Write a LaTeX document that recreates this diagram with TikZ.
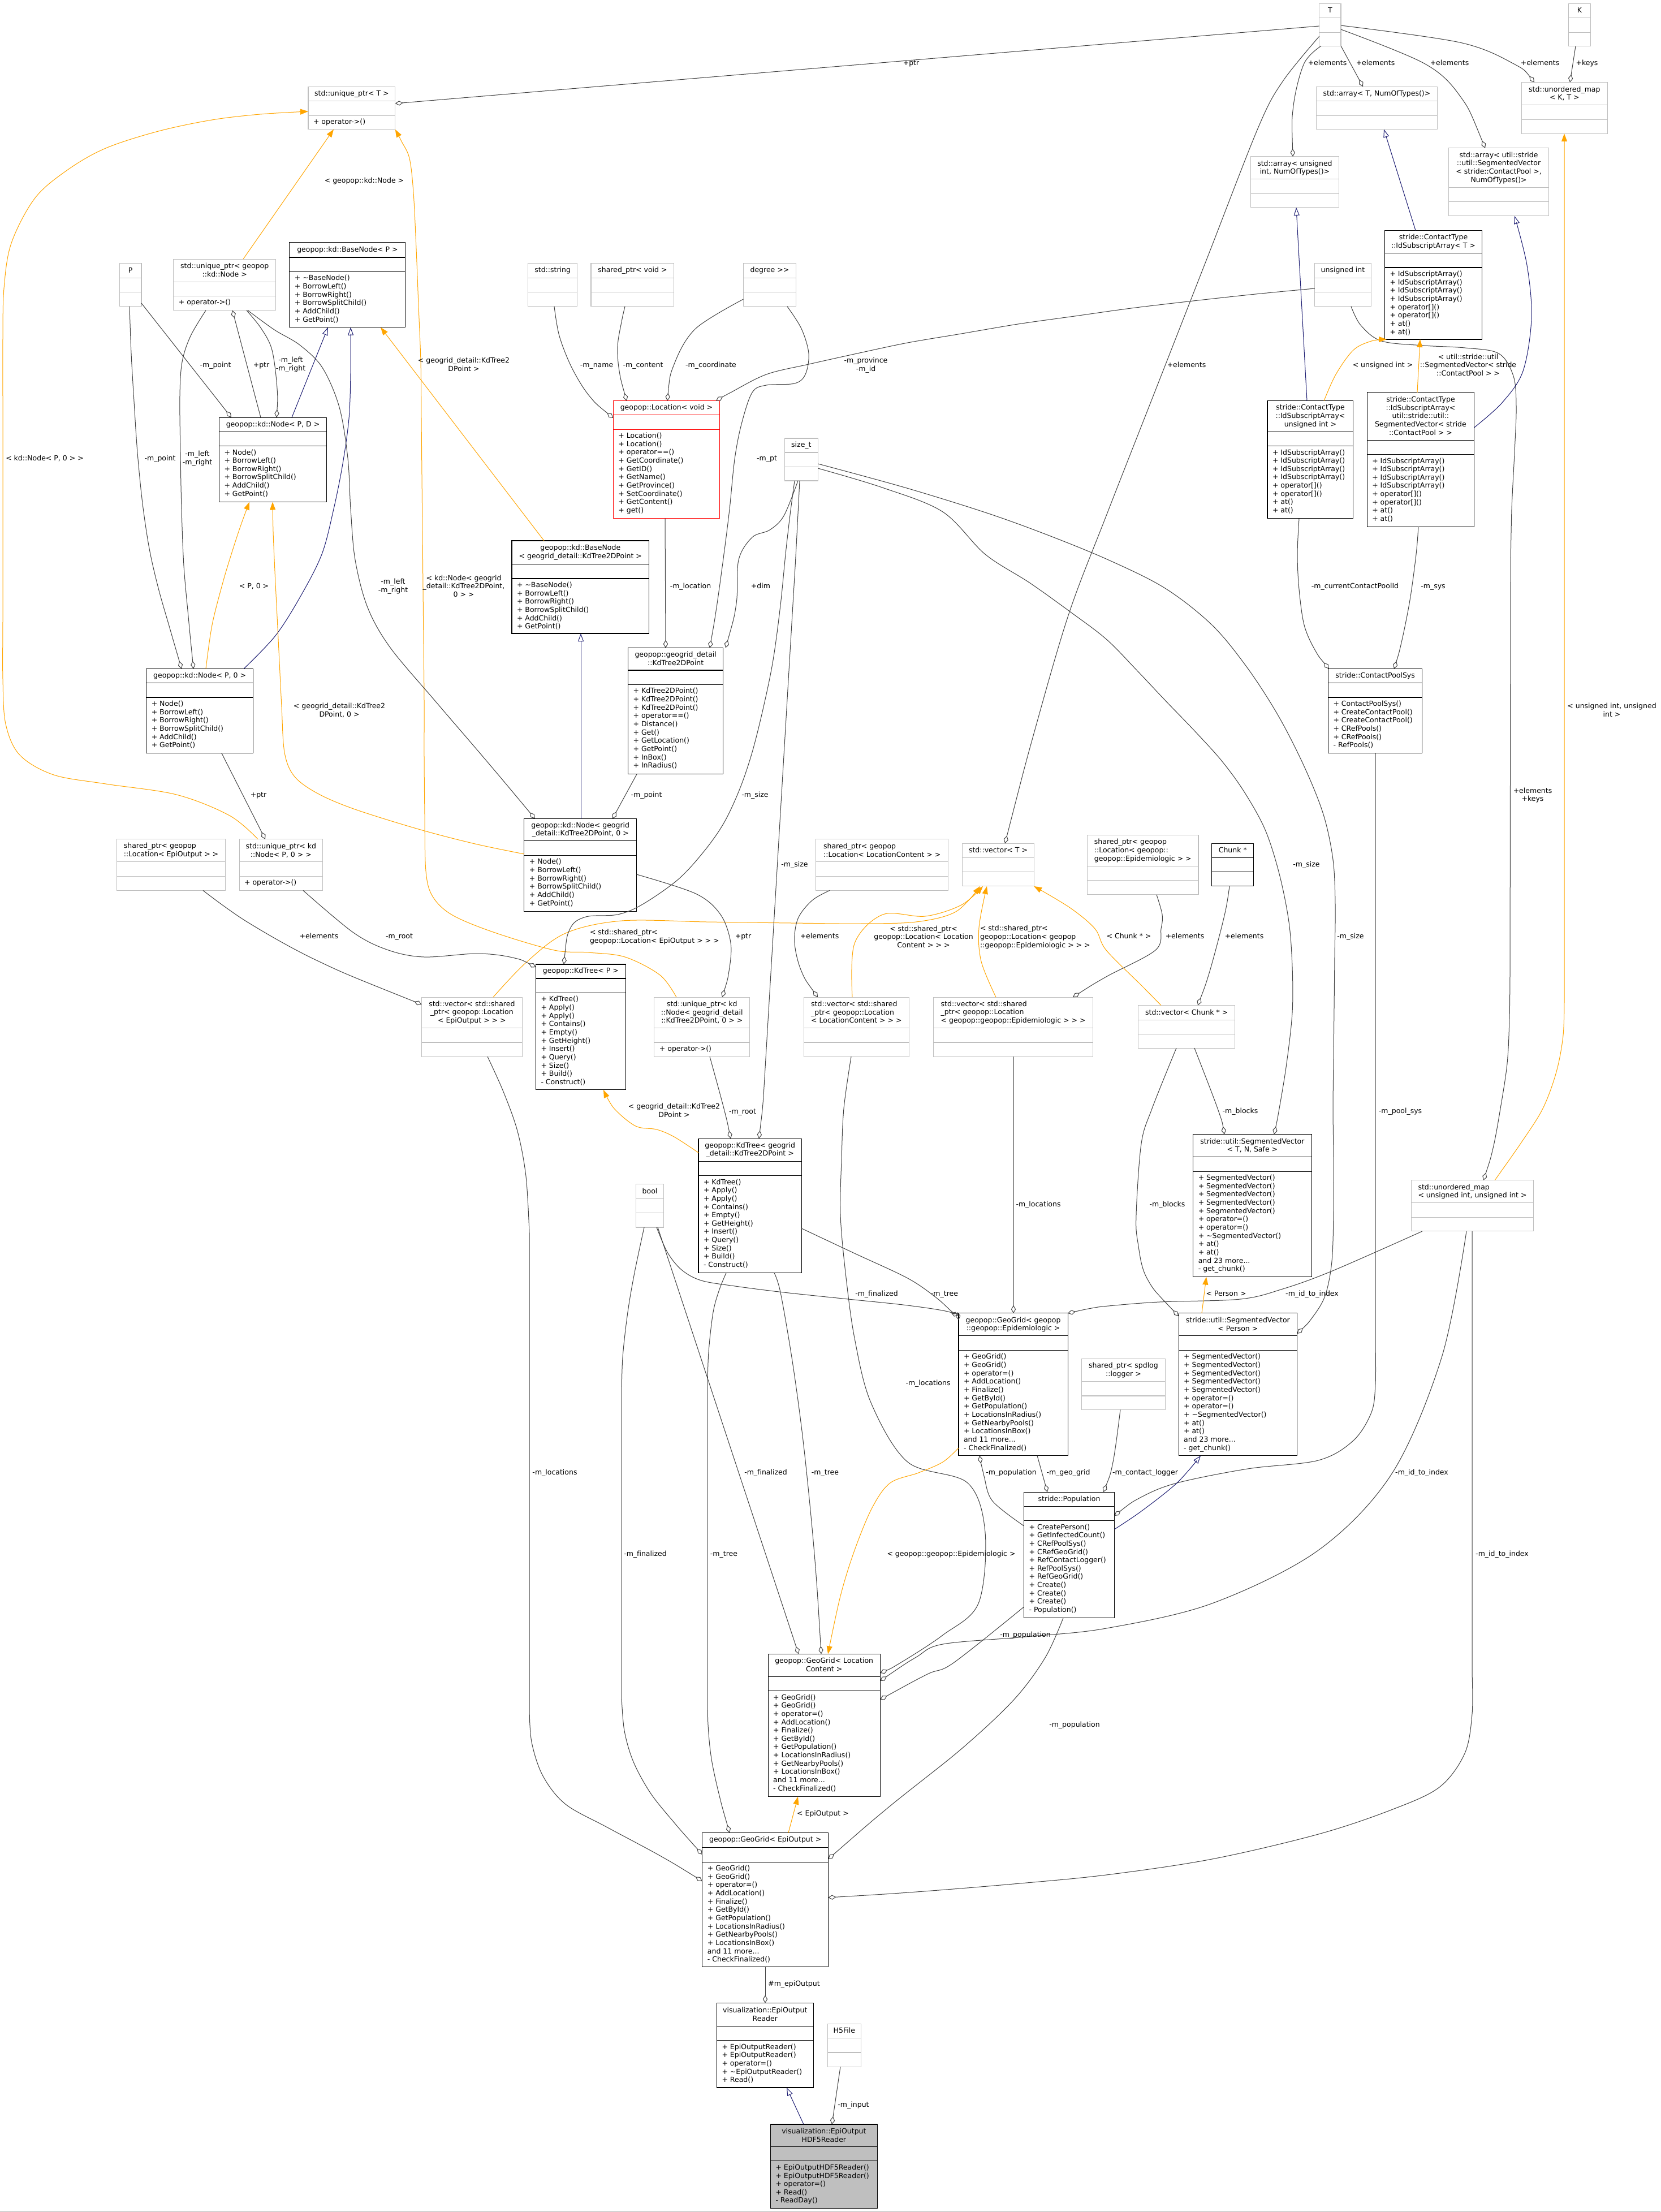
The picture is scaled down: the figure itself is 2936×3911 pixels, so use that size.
\documentclass[tikz,border=0pt]{standalone}
\usepackage{fontspec}
\setmainfont{DejaVu Sans}[Ligatures=NoCommon]
\usetikzlibrary{arrows.meta}
\definecolor{ugray}{HTML}{404040}
\definecolor{bgray}{HTML}{BFBFBF}
\definecolor{mblue}{HTML}{191970}
\definecolor{orng}{HTML}{FFA500}
\newcommand{\umlfs}{\fontsize{6.25}{7.33}\selectfont}
\newcommand{\umlst}{\vphantom{(}}
\def\umltalign{center}
\newcommand{\umlbox}[9]{%
  \pgfmathsetmacro\umlw{(#5-#3)*0.5}%
  \pgfmathsetmacro\umlh{(#6-#4)*0.5}%
  \node[#2, anchor=north west, minimum width=\umlw pt, minimum height=\umlh pt, inner sep=0pt, outer sep=0pt] (#1) at (#3,#4) {};
  \draw[#2] (#3,#7) rectangle (#5,#7+25.5);
  \node[txt, align=\umltalign] (#1t) at ({(#3+#5)/2},{(#4+#7)/2}) {\umlst #8\umlst};
  \if\relax\detokenize{#9}\relax\else
  \node[txt, align=left, anchor=north west] (#1m) at (#3+9,#7+31.4) {\umlst #9};
  \fi
  \gdef\umltalign{center}%
}
\newcommand{\umlboxL}{\gdef\umltalign{left}\umlbox}
\newcommand{\elab}[3]{\node[txt, align=center] (#1) at (#2) {\umlst #3\umlst};}
\newcommand{\elabL}[3]{\node[txt, align=left, anchor=west] (#1) at (#2) {\umlst #3\umlst};}
\def\mBase{+ \textasciitilde BaseNode()\\+ BorrowLeft()\\+ BorrowRight()\\+ BorrowSplitChild()\\+ AddChild()\\+ GetPoint()}
\def\mNode{+ Node()\\+ BorrowLeft()\\+ BorrowRight()\\+ BorrowSplitChild()\\+ AddChild()\\+ GetPoint()}
\def\mLoc{+ Location()\\+ Location()\\+ operator==()\\+ GetCoordinate()\\+ GetID()\\+ GetName()\\+ GetProvince()\\+ SetCoordinate()\\+ GetContent()\\+ get()}
\def\mISA{+ IdSubscriptArray()\\+ IdSubscriptArray()\\+ IdSubscriptArray()\\+ IdSubscriptArray()\\+ operator[]()\\+ operator[]()\\+ at()\\+ at()}
\def\mKP{+ KdTree2DPoint()\\+ KdTree2DPoint()\\+ KdTree2DPoint()\\+ operator==()\\+ Distance()\\+ Get()\\+ GetLocation()\\+ GetPoint()\\+ InBox()\\+ InRadius()}
\def\mKT{+ KdTree()\\+ Apply()\\+ Apply()\\+ Contains()\\+ Empty()\\+ GetHeight()\\+ Insert()\\+ Query()\\+ Size()\\+ Build()\\- Construct()}
\def\mCPS{+ ContactPoolSys()\\+ CreateContactPool()\\+ CreateContactPool()\\+ CRefPools()\\+ CRefPools()\\- RefPools()}
\def\mGG{+ GeoGrid()\\+ GeoGrid()\\+ operator=()\\+ AddLocation()\\+ Finalize()\\+ GetById()\\+ GetPopulation()\\+ LocationsInRadius()\\+ GetNearbyPools()\\+ LocationsInBox()\\and 11 more...\\- CheckFinalized()}
\def\mPop{+ CreatePerson()\\+ GetInfectedCount()\\+ CRefPoolSys()\\+ CRefGeoGrid()\\+ RefContactLogger()\\+ RefPoolSys()\\+ RefGeoGrid()\\+ Create()\\+ Create()\\+ Create()\\- Population()}
\def\mSV{+ SegmentedVector()\\+ SegmentedVector()\\+ SegmentedVector()\\+ SegmentedVector()\\+ SegmentedVector()\\+ operator=()\\+ operator=()\\+ \textasciitilde SegmentedVector()\\+ at()\\+ at()\\and 23 more...\\- get\_chunk()}
\def\mEOR{+ EpiOutputReader()\\+ EpiOutputReader()\\+ operator=()\\+ \textasciitilde EpiOutputReader()\\+ Read()}
\def\mHDF{+ EpiOutputHDF5Reader()\\+ EpiOutputHDF5Reader()\\+ operator=()\\+ Read()\\- ReadDay()}
\begin{document}
\begin{tikzpicture}[x=0.5pt,y=-0.5pt,
  txt/.style={font=\umlfs, inner sep=0pt, outer sep=0pt, text=black},
  gbox/.style={draw=bgray, line width=0.55pt, fill=white},
  kbox/.style={draw=black, line width=0.55pt, fill=white},
  rbox/.style={draw=red, line width=0.55pt, fill=white},
  hbox/.style={draw=black, line width=0.55pt, fill=bgray},
  agg/.style={draw=ugray, line width=0.5pt, {Diamond[open, length=7pt, width=4.2pt]}-},
  inh/.style={draw=mblue, line width=0.5pt, -{Triangle[open, length=7pt, width=5pt]}},
  tmpl/.style={draw=orng, line width=0.5pt, -{Triangle[length=7pt, width=5pt]}},
  smooth, tension=0.55]
\useasboundingbox (0,0) rectangle (2936,3911);
\fill[white] (0,0) rectangle (2936,3911);
\draw[draw=black!45, line width=0.6pt] (0,3909.5) -- (2936,3909.5);

% ---------------- boxes ----------------
\umlbox{uT}{gbox}{545}{153.1}{698.75}{228.75}{178.75}{std::unique\_ptr< T >}{+ operator->()}
\umlbox{P}{gbox}{211.25}{465.6}{250}{541.9}{491.25}{P}{}
\umlbox{uKN}{gbox}{306.9}{458.1}{487.5}{548.75}{498.1}{std::unique\_ptr< geopop\\::kd::Node >}{+ operator->()}
\umlbox{BN}{kbox}{511.9}{428.75}{716.9}{578.75}{455}{geopop::kd::BaseNode< P >}{\mBase}
\umlbox{NPD}{kbox}{387.5}{738.1}{577.5}{887.5}{763.1}{geopop::kd::Node< P, D >}{\mNode}
\umlbox{str}{gbox}{933.75}{465.6}{1020.6}{541.9}{491.25}{std::string}{}
\umlbox{spv}{gbox}{1045}{465.6}{1191.9}{541.9}{491.25}{shared\_ptr< void >}{}
\umlbox{deg}{gbox}{1314.4}{465.6}{1407.5}{541.9}{491.25}{degree >{}>}{}
\umlbox{Loc}{rbox}{1084.4}{708.75}{1272.5}{916.9}{733.75}{geopop::Location< void >}{\mLoc}
\umlbox{szt}{gbox}{1387.5}{775}{1446.25}{850}{800}{size\_t}{}
\umlbox{T}{gbox}{2332.9}{6.25}{2371}{81.25}{31.9}{T}{}
\umlbox{K}{gbox}{2773.5}{6.25}{2812.25}{81.25}{31.9}{K}{}
\umlbox{aT}{gbox}{2327.25}{153.1}{2541.6}{228.75}{178.75}{std::array< T, NumOfTypes()>}{}
\umlbox{umKT}{gbox}{2690.4}{145.6}{2842.25}{236.25}{185.6}{std::unordered\_map\\< K, T >}{}
\umlbox{aU}{gbox}{2211.6}{276.9}{2367.25}{366.9}{316.9}{std::array< unsigned\\int, NumOfTypes()>}{}
\umlbox{aSV}{gbox}{2561.6}{261.9}{2738.5}{381.9}{331.25}{std::array< util::stride\\::util::SegmentedVector\\< stride::ContactPool >,\\NumOfTypes()>}{}
\umlbox{ISAT}{kbox}{2448.5}{407.5}{2620.4}{600}{447.5}{stride::ContactType\\::IdSubscriptArray< T >}{\mISA}
\umlbox{uint}{gbox}{2324.75}{465.6}{2424.1}{541.9}{491.25}{unsigned int}{}
\umlbox{ISAU}{kbox}{2241}{708.75}{2392.9}{916.9}{763.1}{stride::ContactType\\::IdSubscriptArray<\\unsigned int >}{\mISA}
\umlbox{ISASV}{kbox}{2417.25}{693.75}{2606.6}{931.25}{778.1}{stride::ContactType\\::IdSubscriptArray<\\util::stride::util::\\SegmentedVector< stride\\::ContactPool > >}{\mISA}
\umlbox{NPz}{kbox}{258.75}{1182.5}{447.5}{1331.9}{1207.5}{geopop::kd::Node< P, 0 >}{\mNode}
\umlboxL{spEO}{gbox}{206.9}{1483.75}{398.1}{1574.4}{1523.75}{shared\_ptr< geopop\\::Location< EpiOutput > >}{}
\umlbox{uKNPz}{gbox}{423.1}{1483.75}{570.6}{1574.4}{1523.75}{std::unique\_ptr< kd\\::Node< P, 0 > >}{+ operator->()}
\umlbox{vEO}{gbox}{745.6}{1763.1}{923.1}{1868.1}{1817.5}{std::vector< std::shared\\\_ptr< geopop::Location\\< EpiOutput > > >}{}
\umlbox{BNKD}{kbox}{905}{956}{1147.5}{1120}{997.5}{geopop::kd::BaseNode\\< geogrid\_detail::KdTree2DPoint >}{\mBase}
\umlbox{KP}{kbox}{1110.6}{1145.6}{1278.75}{1368.75}{1185}{geopop::geogrid\_detail\\::KdTree2DPoint}{\mKP}
\umlbox{NKD}{kbox}{926.9}{1447.5}{1125.6}{1611.25}{1486.9}{geopop::kd::Node< geogrid\\\_detail::KdTree2DPoint, 0 >}{\mNode}
\umlbox{KTP}{kbox}{947.5}{1705}{1106.25}{1926.9}{1730}{geopop::KdTree< P >}{\mKT}
\umlbox{uKNKD}{gbox}{1156.9}{1763.1}{1325.6}{1868.1}{1817.5}{std::unique\_ptr< kd\\::Node< geogrid\_detail\\::KdTree2DPoint, 0 > >}{+ operator->()}
\umlboxL{spLC}{gbox}{1442.5}{1483.75}{1676.9}{1574.4}{1523.75}{shared\_ptr< geopop\\::Location< LocationContent > >}{}
\umlbox{vT}{gbox}{1701.9}{1491.25}{1828.1}{1566.9}{1516.25}{std::vector< T >}{}
\umlboxL{spEp}{gbox}{1922.5}{1476.9}{2119}{1581.9}{1531.25}{shared\_ptr< geopop\\::Location< geopop::\\geopop::Epidemiologic > >}{}
\umlboxL{vLC}{gbox}{1421.25}{1763.1}{1607.5}{1868.1}{1817.5}{std::vector< std::shared\\\_ptr< geopop::Location\\< LocationContent > > >}{}
\umlboxL{vEp}{gbox}{1650.6}{1763.1}{1932.5}{1868.1}{1817.5}{std::vector< std::shared\\\_ptr< geopop::Location\\< geopop::geopop::Epidemiologic > > >}{}
\umlbox{CPS}{kbox}{2348.5}{1182.5}{2514.75}{1331.9}{1207.5}{stride::ContactPoolSys}{\mCPS}
\umlbox{Chk}{kbox}{2142.9}{1491.25}{2216.6}{1566.9}{1516.25}{Chunk *}{}
\umlbox{vChk}{gbox}{2012.9}{1777.5}{2183.5}{1853.1}{1803.1}{std::vector< Chunk * >}{}
\umlbox{KTKD}{kbox}{1235}{2013.1}{1417.5}{2250.6}{2053.1}{geopop::KdTree< geogrid\\\_detail::KdTree2DPoint >}{\mKT}
\umlbox{bool}{gbox}{1124.4}{2093.75}{1173.75}{2170}{2119.4}{bool}{}
\umlbox{GGEp}{kbox}{1695}{2321.9}{1888.1}{2573.75}{2361.9}{geopop::GeoGrid< geopop\\::geopop::Epidemiologic >}{\mGG}
\umlbox{Pop}{kbox}{1810.6}{2638.1}{1970.4}{2860.6}{2663.1}{stride::Population}{\mPop}
\umlbox{spLog}{gbox}{1912.5}{2402.5}{2060.4}{2492.5}{2442.5}{shared\_ptr< spdlog\\::logger >}{}
\umlbox{GGLC}{kbox}{1358.1}{2924.4}{1556.25}{3176.6}{2964.1}{geopop::GeoGrid< Location\\Content >}{\mGG}
\umlbox{SVT}{kbox}{2109.75}{2005.6}{2319.1}{2257.5}{2045.6}{stride::util::SegmentedVector\\< T, N, Safe >}{\mSV}
\umlbox{SVP}{kbox}{2084.1}{2321.9}{2293.5}{2573.75}{2361.9}{stride::util::SegmentedVector\\< Person >}{\mSV}
\umlboxL{umU}{gbox}{2495.4}{2086.9}{2711.6}{2176.9}{2126.9}{std::unordered\_map\\< unsigned int, unsigned int >}{}
\umlbox{GGEO}{kbox}{1241.9}{3240.4}{1464.4}{3477.9}{3266.6}{geopop::GeoGrid< EpiOutput >}{\mGG}
\umlbox{EOR}{kbox}{1267.5}{3541.6}{1438.1}{3691}{3582.25}{visualization::EpiOutput\\Reader}{\mEOR}
\umlbox{H5}{gbox}{1463.1}{3578.5}{1522.5}{3654.1}{3603.5}{H5File}{}
\umlbox{HDF}{hbox}{1362.5}{3756}{1551.25}{3904}{3795.4}{visualization::EpiOutput\\HDF5Reader}{\mHDF}

% ---------------- connectors ----------------
\draw[agg] (uT.east |- 0,183) -- (T.west |- 0,46);
\draw[agg] plot coordinates {(vT.north -| 1777,0) (1830,1290) (1890,1085) (1956,912) (2045,685) (2135,455) (2225,225) (2268,144) (T.west |- 0,64)};
\draw[agg] plot coordinates {(aU.north -| 2286,0) (2287,187) (2306,112) (T.south -| 2336,0)};
\draw[agg] (aT.north -| 2410,0) -- (T.south east);
\draw[agg] plot coordinates {(aSV.north -| 2626,0) (2581,169) (2518,112) (T.east |- 0,52)};
\draw[agg] plot coordinates {(umKT.north -| 2713,0) (2675,112) (2581,75) (T.east |- 0,45)};
\draw[agg] (umKT.north -| 2776,0) -- (K.south -| 2786,0);

\draw[tmpl] (uKN.north -| 430,0) -- (uT.south -| 590,0);
\draw[tmpl] plot coordinates {(uKNPz.north -| 456,0) (406,1442) (312,1405) (187,1386) (95,1370) (35,1335) (10,1280) (5,1200) (5,1100) (5,1000) (5,900) (5,800) (5,700) (5,600) (7,510) (20,430) (62,350) (120,300) (187,262) (280,232) (375,212) (460,202) (uT.west |- 0,197)};
\draw[tmpl] plot coordinates {(uKNKD.north -| 1196,0) (1167,1724) (1105,1692) (1040,1684) (980,1680) (875,1649) (800,1618) (765,1585) (753,1540) (751,1440) (750,1340) (750,1240) (749,1140) (748,1040) (747,940) (746,840) (745,740) (744,640) (740,540) (736,440) (731,340) (724,280) (710,250) (uT.south east)};
\draw[tmpl] plot coordinates {(vEO.north -| 872,0) (930,1702) (1000,1650) (1100,1628) (1250,1630) (1400,1632) (1520,1633) (1620,1630) (1690,1612) (vT.south -| 1733,0)};
\draw[tmpl] plot coordinates {(vLC.north -| 1507,0) (1511,1668) (1561,1617) (1636,1620) (1700,1600) (vT.south -| 1738,0)};
\draw[tmpl] plot coordinates {(vEp.north -| 1761,0) (1735,1700) (1731,1640) (vT.south -| 1745,0)};
\draw[tmpl] plot coordinates {(vChk.north -| 2053,0) (2018,1742) (1956,1680) (1936,1642) (1892,1605) (vT.south east)};

\draw[inh] (NPD.north -| 516,0) -- (BN.south -| 580,0);
\draw[inh] plot coordinates {(NPz.north -| 431,0) (487,1124) (531,1055) (569,980) (590,900) (606,820) (617,740) (620,660) (BN.south -| 620,0)};
\draw[tmpl] (BNKD.north -| 962,0) -- (BN.south -| 673,0);
\draw[tmpl] plot coordinates {(NPz.north -| 364,0) (375,1105) (394,1030) (409,980) (425,931) (NPD.south -| 441,0)};
\draw[tmpl] plot coordinates {(NKD.west |- 0,1510) (840,1492) (740,1466) (625,1430) (560,1402) (520,1372) (503,1330) (498,1250) (494,1170) (490,1090) (486,1010) (483,940) (NPD.south -| 482,0)};
\draw[agg] (NPD.north -| 409,0) -- (P.east |- 0,536);
\draw[agg] (uKN.south -| 411,0) -- (NPD.north -| 461,0);
\draw[agg] plot coordinates {(NPD.north -| 489,0) (490,687) (481,619) (462,581) (uKN.south -| 436,0)};
\draw[agg] plot coordinates {(NPz.north -| 321,0) (300,1110) (280,1040) (264,970) (252,890) (243,800) (237,710) (232,625) (P.south -| 229,0)};
\draw[agg] plot coordinates {(NPz.north -| 342,0) (333,1090) (325,1000) (321,900) (319,800) (318,700) (322,640) (337,594) (uKN.south -| 364,0)};
\draw[agg] plot coordinates {(NKD.north -| 946,0) (860,1345) (770,1240) (690,1145) (650,1074) (628,990) (620,900) (615,810) (600,720) (570,650) (530,610) (485,583) (uKN.south -| 438,0)};
\draw[agg] (uKNPz.north -| 469,0) -- (NPz.south -| 392,0);

\draw[agg] plot coordinates {(Loc.west |- 0,739) (1042,700) (1011,650) (989,594) (str.south -| 980,0)};
\draw[agg] plot coordinates {(Loc.north -| 1108,0) (1095,656) (1092,612) (1099,569) (spv.south -| 1105,0)};
\draw[agg] plot coordinates {(Loc.north -| 1180,0) (1192,644) (1230,581) (deg.west |- 0,529)};
\draw[agg] plot coordinates {(Loc.north -| 1266,0) (1292,694) (1355,662) (1430,644) (1520,624) (1605,606) (1700,590) (1800,573) (1900,559) (2000,545) (2110,532) (2220,520) (uint.west |- 0,510)};
\draw[agg] (KP.north -| 1177,0) -- (Loc.south -| 1176,0);
\draw[agg] plot coordinates {(KP.north -| 1255,0) (1267,1074) (1280,980) (1290,900) (1299,812) (1311,750) (1330,694) (1355,681) (1405,678) (1424,662) (1430,625) (1417,581) (deg.south -| 1392,0)};
\draw[agg] plot coordinates {(KP.north -| 1283,0) (1302,1067) (1306,990) (1330,950) (1361,937) (1386,912) (szt.south -| 1411,0)};
\draw[agg] (NKD.north -| 1083,0) -- (KP.south -| 1126,0);
\draw[inh] (NKD.north -| 1027,0) -- (BNKD.south -| 1027,0);
\draw[agg] plot coordinates {(KTP.north -| 997,0) (1008,1642) (1036,1621) (1092,1617) (1136,1599) (1199,1555) (1245,1505) (1280,1455) (1308,1395) (1330,1330) (1350,1250) (1367,1167) (1380,1070) (1389,980) (1397,910) (szt.south -| 1405,0)};
\draw[agg, rounded corners=10pt] (KTKD.north -| 1342,0) -- (1349,1955) -- (1407,985) -- (szt.south -| 1414,0);
\draw[agg] plot coordinates {(SVP.east |- 0,2358) (2320,2330) (2343,2291) (2355,2230) (2358,2140) (2358,2050) (2357,1960) (2358,1870) (2359,1780) (2360,1690) (2361,1600) (2357,1520) (2340,1440) (2306,1355) (2260,1265) (2205,1180) (2143,1105) (2060,1040) (1960,990) (1850,945) (1742,906) (1600,862) (szt.east |- 0,820)};
\draw[agg] plot coordinates {(SVT.north -| 2253,0) (2262,1960) (2275,1880) (2285,1790) (2285,1710) (2279,1630) (2262,1545) (2237,1467) (2200,1400) (2160,1345) (2112,1292) (2060,1238) (2010,1185) (1956,1130) (1890,1080) (1820,1030) (1742,980) (1667,905) (1560,862) (szt.east |- 0,828)};
\draw[agg] plot coordinates {(umU.north -| 2623,0) (2640,2030) (2653,1960) (2665,1880) (2669,1800) (2670,1720)} -- plot coordinates {(2671,1000) (2673,900) (2678,800) (2681,720) (2676,665) (2650,625) (2590,615) (2518,611) (2443,603) (2406,575) (uint.south -| 2389,0)};
\draw[agg] plot coordinates {(CPS.north -| 2350,0) (2325,1149) (2306,1105) (2297,1042) (2294,980) (ISAU.south -| 2297,0)};
\draw[agg] plot coordinates {(CPS.north -| 2465,0) (2478,1136) (2493,1061) (2504,980) (ISASV.south -| 2508,0)};
\draw[tmpl] plot coordinates {(ISAU.north -| 2341,0) (2362,662) (2393,619) (2425,603) (ISAT.south -| 2452,0)};
\draw[tmpl] (ISASV.north -| 2506,0) -- (ISAT.south -| 2511,0);
\draw[inh] (ISAU.north -| 2311,0) -- (aU.south -| 2292,0);
\draw[inh] (ISAT.north -| 2503,0) -- (aT.south -| 2447,0);
\draw[inh] plot coordinates {(ISASV.east |- 0,756) (2656,712) (2693,656) (2708,562) (2700,469) (aSV.south -| 2678,0)};
\draw[tmpl] plot coordinates {(umU.north -| 2643,0) (2690,2020) (2728,1960) (2752,1895) (2764,1830) (2766,1760)} -- (umKT.south -| 2766,0);
\draw[agg] plot coordinates {(Pop.east |- 0,2680) (2018,2647) (2081,2622) (2206,2597) (2331,2582) (2393,2547) (2425,2497) (2432,2447) (2432,2380)} -- (CPS.south -| 2432,0);
\draw[agg] plot coordinates {(vChk.north -| 2118,0) (2137,1724) (2156,1655) (2168,1605) (Chk.south -| 2174,0)};
\draw[agg] plot coordinates {(vEp.north -| 1897,0) (1956,1727) (2043,1680) (2053,1642) (2055,1617) (spEp.south -| 2045,0)};
\draw[agg] plot coordinates {(vLC.north -| 1446,0) (1417,1717) (1405,1667) (1411,1624) (1436,1592) (spLC.south -| 1467,0)};
\draw[agg] plot coordinates {(vEO.west |- 0,1776) (562,1699) (437,1630) (spEO.south -| 359,0)};
\draw[agg] plot coordinates {(KTP.west |- 0,1710) (906,1693) (844,1686) (750,1692) (687,1680) (625,1649) (uKNPz.south -| 536,0)};
\draw[agg] plot coordinates {(uKNKD.north -| 1277,0) (1289,1717) (1292,1667) (1274,1617) (1230,1580) (NKD.east |- 0,1546)};
\draw[tmpl] plot coordinates {(KTKD.west |- 0,2038) (1192,2010) (1161,1997) (1124,1991) (1086,1960) (KTP.south -| 1067,0)};
\draw[agg] plot coordinates {(KTKD.north -| 1292,0) (1280,1960) (uKNKD.south -| 1255,0)};
\draw[agg] plot coordinates {(GGEp.west |- 0,2334) (1680,2320) (1605,2308) (1500,2297) (1386,2285) (1300,2274) (1240,2264) (1205,2245) (1180,2214) (bool.south -| 1161,0)};
\draw[agg] plot coordinates {(GGEp.west |- 0,2326) (1683,2319) (1655,2294) (1605,2260) (1511,2216) (KTKD.east |- 0,2172)};
\draw[agg] (GGEp.north -| 1792,0) -- (vEp.south -| 1792,0);
\draw[agg] plot coordinates {(GGEp.north east) (1930,2313) (1960,2309) (2050,2302) (2193,2297) (2268,2279) (2356,2247) (umU.south -| 2515,0)};
\draw[agg] plot coordinates {(GGLC.east |- 0,2958) (1592,2940) (1667,2891) (1730,2835) (1742,2710) (1711,2622) (1605,2585) (1540,2480) (1511,2366) (1495,2250) (1486,2147) (1488,2050) (1492,1960) (vLC.south -| 1505,0)};
\draw[agg] (GGLC.north -| 1412,0) -- (bool.south -| 1163,0);
\draw[agg] plot coordinates {(GGLC.north -| 1452,0) (1442,2772) (1430,2640) (1417,2522) (1400,2400) (1380,2285) (KTKD.south -| 1369,0)};
\draw[tmpl] plot coordinates {(GGEp.west |- 0,2560) (1667,2585) (1624,2604) (1574,2622) (1542,2666) (1511,2741) (1486,2822) (GGLC.north -| 1464,0)};
\draw[agg] plot coordinates {(GGEp.south -| 1732,0) (1740,2610) (1755,2654) (Pop.west |- 0,2698)};
\draw[agg] (Pop.north -| 1852,0) -- (GGEp.south -| 1834,0);
\draw[agg] plot coordinates {(Pop.north -| 1951,0) (1968,2585) (spLog.south -| 1981,0)};
\draw[inh] plot coordinates {(Pop.east |- 0,2704) (2018,2672) (2081,2622) (SVP.south -| 2123,0)};
\draw[tmpl] (SVP.north -| 2125,0) -- (SVT.south -| 2133,0);
\draw[agg] plot coordinates {(SVT.north -| 2165,0) (2153,1960) (vChk.south -| 2112,0)};
\draw[agg] plot coordinates {(SVP.west |- 0,2327) (2028,2260) (2012,2197) (2009,2147) (2018,2022) (2037,1960) (vChk.south -| 2080,0)};
\draw[agg] plot coordinates {(GGLC.east |- 0,2972) (1620,2930) (1667,2907) (1813,2894) (1956,2879) (2143,2835) (2331,2741) (2462,2604) (2550,2397) (umU.south -| 2593,0)};
\draw[agg] plot coordinates {(GGLC.east |- 0,3005) (1640,2960) (1686,2940) (Pop.west |- 0,2841)};
\draw[agg] plot coordinates {(GGEO.west |- 0,3326) (1167,3281) (1074,3231) (1000,3190) (960,3140) (940,3080) (936,3020)} -- plot coordinates {(936,2180) (930,2080) (915,2000) (890,1930) (vEO.south -| 862,0)};
\draw[agg] plot coordinates {(GGEO.west |- 0,3279) (1190,3220) (1150,3170) (1120,3115) (1104,3060) (1099,3000)} -- plot coordinates {(1099,2470) (1101,2400) (1110,2320) (1122,2250) (bool.south -| 1139,0)};
\draw[agg] plot coordinates {(GGEO.north -| 1290,0) (1272,3175) (1258,3110) (1252,3050) (1251,2990)} -- plot coordinates {(1251,2450) (1253,2390) (1261,2320) (1272,2280) (KTKD.south -| 1284,0)};
\draw[agg] plot coordinates {(GGEO.east |- 0,3287) (1574,3193) (1699,3093) (1792,3006) (1848,2931) (Pop.south -| 1880,0)};
\draw[agg] plot coordinates {(GGEO.east |- 0,3355) (1620,3345) (1792,3331) (1956,3315) (2143,3287) (2331,3243) (2460,3200) (2545,3160) (2590,3100) (2603,3030) (2603,2960)} -- (umU.south -| 2603,0);
\draw[tmpl] (GGEO.north -| 1394,0) -- (GGLC.south -| 1411,0);
\draw[agg] (EOR.north -| 1353,0) -- (GGEO.south -| 1353,0);
\draw[inh] (HDF.north -| 1421,0) -- (EOR.south -| 1391,0);
\draw[agg] (HDF.north -| 1471,0) -- (H5.south -| 1486,0);

% ---------------- labels ----------------
\elab{l1}{1611,112}{+ptr}
\elab{l2}{2347,112}{+elements}
\elab{l3}{2432,112}{+elements}
\elab{l4}{2563,112}{+elements}
\elab{l5}{2723,112}{+elements}
\elab{l6}{2806,112}{+keys}
\elab{l7}{2098,646}{+elements}
\elab{l8}{644,320}{< geopop::kd::Node >}
\elab{l9}{79,811}{< kd::Node< P, 0 > >}
\elab{l10}{820,1037}{< kd::Node< geogrid\\\_detail::KdTree2DPoint,\\0 > >}
\elabL{l11}{1043,1656.5}{< std::shared\_ptr<\\geopop::Location< EpiOutput > > >}
\elab{l12}{1633,1657}{< std::shared\_ptr<\\geopop::Location< Location\\Content > > >}
\elabL{l13}{1733,1657}{< std::shared\_ptr<\\geopop::Location< geopop\\::geopop::Epidemiologic > > >}
\elab{l14}{1996,1656}{< Chunk * >}
\elab{l17}{820,645}{< geogrid\_detail::KdTree2\\DPoint >}
\elab{l18}{449,1037}{< P, 0 >}
\elab{l19}{600,1256}{< geogrid\_detail::KdTree2\\DPoint, 0 >}
\elab{l20}{381,646}{-m\_point}
\elab{l21}{462,646}{+ptr}
\elab{l22}{514,645}{-m\_left\\-m\_right}
\elab{l23}{283,811}{-m\_point}
\elab{l24}{349,811}{-m\_left\\-m\_right}
\elab{l25}{695,1037}{-m\_left\\-m\_right}
\elab{l26}{457,1406}{+ptr}
\elab{l27}{1055,646}{-m\_name}
\elab{l28}{1137,646}{-m\_content}
\elab{l29}{1257,646}{-m\_coordinate}
\elab{l30}{1531,646}{-m\_province\\-m\_id}
\elab{l31}{1221,1037}{-m\_location}
\elab{l32}{1356,811}{-m\_pt}
\elab{l33}{1345,1037}{+dim}
\elab{l34}{1143,1406}{-m\_point}
\elab{l36}{1335,1406}{-m\_size}
\elab{l37}{1405,1529}{-m\_size}
\elab{l38}{2388,1656}{-m\_size}
\elab{l39}{2310,1529}{-m\_size}
\elab{l40}{2710,1406}{+elements\\+keys}
\elab{l41}{2396,1037}{-m\_currentContactPoolId}
\elab{l42}{2534,1037}{-m\_sys}
\elab{l43}{2445,646}{< unsigned int >}
\elab{l44}{2596,646}{< util::stride::util\\::SegmentedVector< stride\\::ContactPool > >}
\elab{l48}{2850,1256}{< unsigned int, unsigned\\int >}
\elab{l49}{2476,1965}{-m\_pool\_sys}
\elab{l50}{2200,1656}{+elements}
\elab{l51}{2095,1656}{+elements}
\elab{l52}{1449,1656}{+elements}
\elab{l53}{564,1656}{+elements}
\elab{l54}{706,1656}{-m\_root}
\elab{l55}{1314,1656}{+ptr}
\elab{l56}{1192,1964}{< geogrid\_detail::KdTree2\\DPoint >}
\elab{l57}{1313,1966}{-m\_root}
\elab{l58}{1550,2288}{-m\_finalized}
\elab{l59}{1670,2288}{-m\_tree}
\elab{l60}{1836,2130}{-m\_locations}
\elab{l61}{2320,2288}{-m\_id\_to\_index}
\elab{l62}{1641,2446}{-m\_locations}
\elab{l63}{1354,2604}{-m\_finalized}
\elab{l64}{1459,2604}{-m\_tree}
\elab{l65}{1682,2748}{< geopop::geopop::Epidemiologic >}
\elab{l66}{1788,2604}{-m\_population}
\elab{l67}{1889,2604}{-m\_geo\_grid}
\elab{l68}{2025,2604}{-m\_contact\_logger}
\elab{l70}{2168,2288}{< Person >}
\elab{l71}{2193,1965}{-m\_blocks}
\elab{l72}{2064,2130}{-m\_blocks}
\elab{l73}{2514,2604}{-m\_id\_to\_index}
\elab{l74}{1813,2891}{-m\_population}
\elab{l75}{981,2604}{-m\_locations}
\elab{l76}{1141,2748}{-m\_finalized}
\elab{l77}{1280,2748}{-m\_tree}
\elab{l78}{1900,3050}{-m\_population}
\elab{l79}{2656,2748}{-m\_id\_to\_index}
\elab{l80}{1455,3207}{< EpiOutput >}
\elab{l81}{1404,3508}{\#m\_epiOutput}
\elab{l82}{1509,3722}{-m\_input}
\end{tikzpicture}
\end{document}
